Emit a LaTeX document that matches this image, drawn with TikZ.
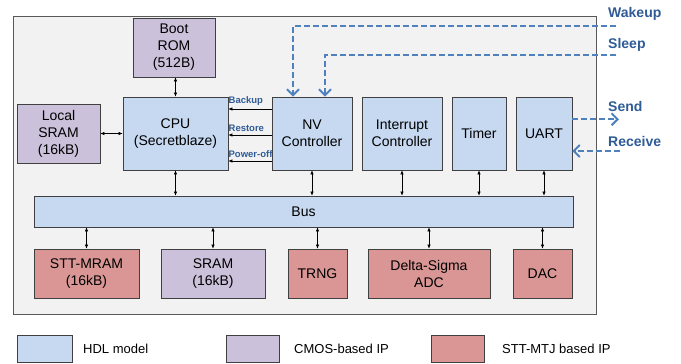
\documentclass[tikz,border=0pt]{standalone}
\usepackage{fontspec}
\setmainfont{Liberation Sans}
\usetikzlibrary{arrows.meta}
\definecolor{hdlblue}{HTML}{C6D9F1}
\definecolor{cmospurple}{HTML}{CCC1DA}
\definecolor{mtjred}{HTML}{D99694}
\definecolor{panelgray}{HTML}{F2F2F2}
\definecolor{sigline}{HTML}{4F81BD}
\definecolor{sigtext}{HTML}{2F5B96}
\tikzset{
  block/.style={rectangle, draw=black!75, line width=0.7pt, inner sep=1pt,
    align=center, font=\fontsize{14}{17}\selectfont},
  hdl/.style={block, fill=hdlblue},
  cmos/.style={block, fill=cmospurple},
  mtj/.style={block, fill=mtjred},
  link/.style={{Latex[length=4pt,width=3.5pt]}-{Latex[length=4pt,width=3.5pt]}, line width=0.6pt},
  ctrl/.style={-{Latex[length=4pt,width=3.5pt]}, line width=0.6pt},
  ctrllbl/.style={font=\fontsize{9.5}{11}\selectfont\bfseries, text=sigtext, inner sep=0pt},
  sig/.style={sigline, line width=2.2pt, dash pattern=on 6pt off 3pt},
  sigarrow/.style={sig, -{Straight Barb[length=6pt,width=12pt,line width=2pt]}},
  siglbl/.style={font=\fontsize{14}{17}\selectfont\bfseries, text=sigtext, anchor=west, inner sep=0pt},
  legtext/.style={anchor=west, inner sep=0pt, font=\fontsize{13}{15}\selectfont}
}
\begin{document}
\begin{tikzpicture}[x=1pt,y=-1pt]
\useasboundingbox (0,0) rectangle (681,364);
% outer panel
\node (panel) at (304.5,165) [draw=black!65, line width=0.8pt, fill=panelgray,
  minimum width=583, minimum height=298] {};
% top row
\node (bootrom) at (174,47.5) [cmos, minimum width=82, minimum height=59] {Boot\\ROM\\(512B)};
\node (lsram) at (58.5,133.5) [cmos, minimum width=83, minimum height=59] {Local\\SRAM\\(16kB)};
\node (cpu) at (175.5,133.5) [hdl, minimum width=105, minimum height=73] {CPU\\(Secretblaze)};
\node (nvc) at (312,133.5) [hdl, minimum width=80, minimum height=73] {NV\\Controller};
\node (intc) at (402,133.5) [hdl, minimum width=80, minimum height=73] {Interrupt\\Controller};
\node (timer) at (479,133.5) [hdl, minimum width=54, minimum height=73] {Timer};
\node (uart) at (544,133.5) [hdl, minimum width=56, minimum height=73] {UART};
% bus
\node (bus) at (303.5,211.5) [hdl, minimum width=539, minimum height=31] {Bus};
% bottom row
\node (sttmram) at (86.5,273.5) [mtj, minimum width=105, minimum height=49] {STT-MRAM\\(16kB)};
\node (sram) at (213,273.5) [cmos, minimum width=104, minimum height=49] {SRAM\\(16kB)};
\node (trng) at (317.5,273.5) [mtj, minimum width=59, minimum height=49] {TRNG};
\node (adc) at (429,273.5) [mtj, minimum width=122, minimum height=49] {Delta-Sigma\\ADC};
\node (dac) at (542.5,273.5) [mtj, minimum width=59, minimum height=49] {DAC};
% legend
\node (leghdl) at (44.5,348.5) [hdl, minimum width=55, minimum height=27] {};
\node (leghdltxt) at (83,348.5) [legtext] {HDL model};
\node (legcmos) at (252.5,348.5) [cmos, minimum width=53, minimum height=27] {};
\node (legcmostxt) at (294,348.5) [legtext] {CMOS-based IP};
\node (legmtj) at (457.5,348.5) [mtj, minimum width=53, minimum height=27] {};
\node (legmtjtxt) at (502,348.5) [legtext] {STT-MTJ based IP};
% external signals
\coordinate (wakeupin) at (616,25.7);
\coordinate (sleepin) at (616,55);
\coordinate (sendout) at (619,119.3);
\coordinate (receivein) at (620,151);
\node (wakeuplbl) at (608,14) [siglbl] {Wakeup};
\node (sleeplbl) at (608,45) [siglbl] {Sleep};
\node (sendlbl) at (608,106) [siglbl] {Send};
\node (receivelbl) at (608,141) [siglbl] {Receive};
% connections
\draw[link] (cpu.north) -- (cpu.north |- bootrom.south);
\draw[link] (lsram.east) -- (cpu.west);
\draw[ctrl] ([yshift=24.5pt]nvc.west) -- ([yshift=24.5pt]cpu.east)
  node[ctrllbl, pos=1, anchor=south west, yshift=3pt] {Backup};
\draw[ctrl] ([yshift=-1.5pt]nvc.west) -- ([yshift=-1.5pt]cpu.east)
  node[ctrllbl, pos=1, anchor=south west, yshift=3pt] {Restore};
\draw[ctrl] ([yshift=-27.5pt]nvc.west) -- ([yshift=-27.5pt]cpu.east)
  node[ctrllbl, pos=1, anchor=south west, yshift=3pt] {Power-off};
\draw[link] (cpu.south) -- (cpu.south |- bus.north);
\draw[link] (nvc.south) -- (nvc.south |- bus.north);
\draw[link] (intc.south) -- (intc.south |- bus.north);
\draw[link] (timer.south) -- (timer.south |- bus.north);
\draw[link] (uart.south) -- (uart.south |- bus.north);
\draw[link] (sttmram.north |- bus.south) -- (sttmram.north);
\draw[link] (sram.north |- bus.south) -- (sram.north);
\draw[link] (trng.north |- bus.south) -- (trng.north);
\draw[link] (adc.north |- bus.south) -- (adc.north);
\draw[link] (dac.north |- bus.south) -- (dac.north);
\draw[sigarrow] (wakeupin) -| ([xshift=-19pt]nvc.north);
\draw[sigarrow] (sleepin) -| ([xshift=13pt]nvc.north);
\draw[sigarrow] ([yshift=14.2pt]uart.east) -- (sendout);
\draw[sigarrow] (receivein) -- ([yshift=-17.5pt]uart.east);
\end{tikzpicture}
\end{document}
